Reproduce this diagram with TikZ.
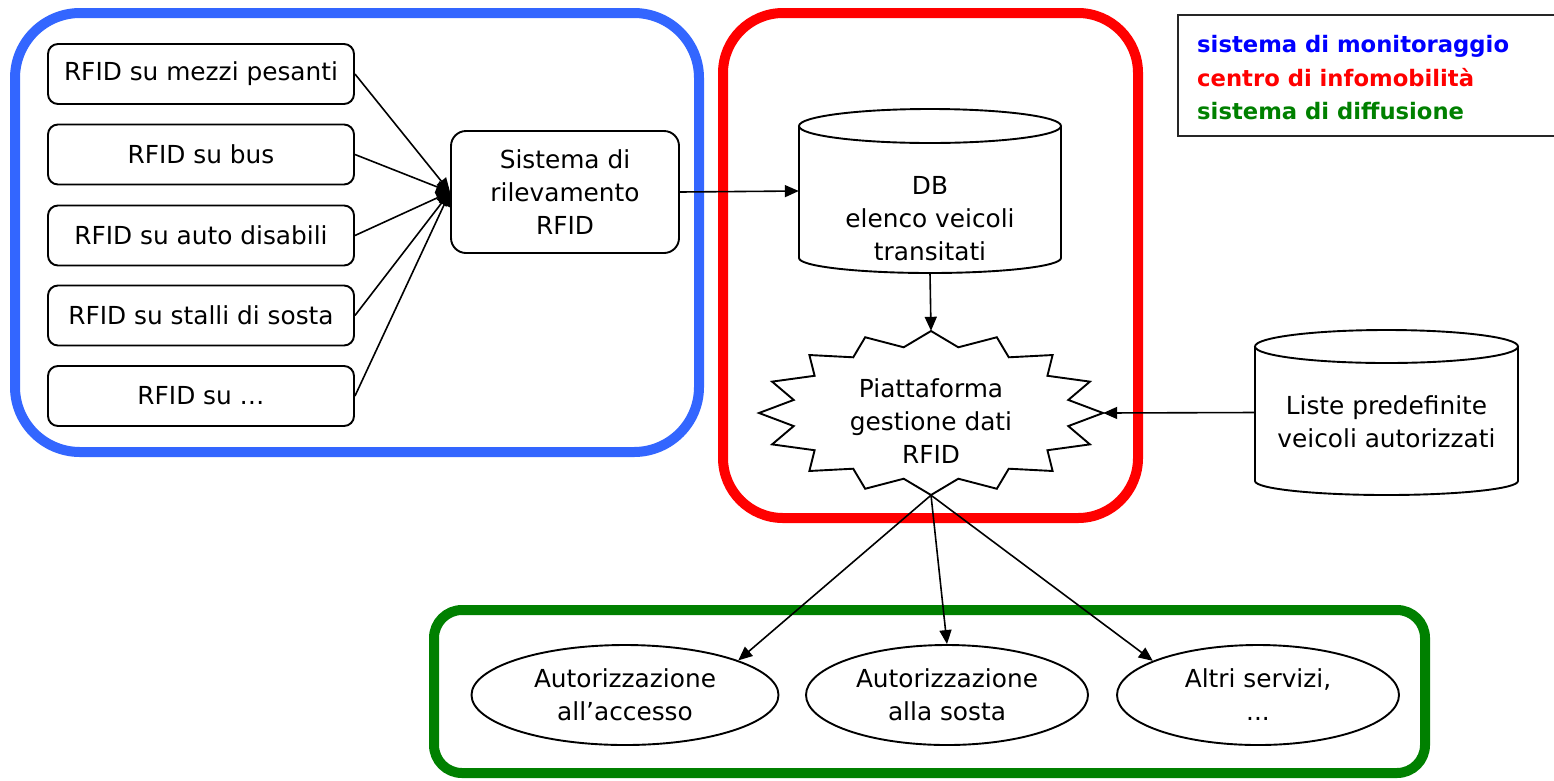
\documentclass[tikz,border=0pt]{standalone}
\usepackage{fontspec}
\setmainfont{DejaVu Sans}
\usetikzlibrary{arrows.meta,shapes.geometric}
\definecolor{bblue}{RGB}{51,102,255}
\definecolor{rred}{RGB}{255,0,0}
\definecolor{ggreen}{RGB}{0,128,0}
\definecolor{lblue}{RGB}{0,0,255}
\begin{document}
\begin{tikzpicture}[x=1pt,y=-1pt,
  every node/.style={font=\fontsize{24.8}{33}\selectfont, inner sep=0pt},
  grp/.style={line width=10pt},
  shp/.style={line width=1.9pt, draw=black},
  rbox/.style={shp, rounded corners=10pt, minimum width=306pt, minimum height=60pt},
  ell/.style={shp, ellipse, minimum height=100pt, align=center},
  txt/.style={align=center},
  legendtext/.style={font=\bfseries\fontsize{22.7}{30}\selectfont, anchor=base west},
  arr/.style={line width=1.6pt, -{Triangle[length=14pt,width=12pt]}}]
\useasboundingbox (0,0) rectangle (1554,780);
\clip (0,0) rectangle (1554,780);

% group frames
\draw[grp, bblue, rounded corners=65pt] (15,13) rectangle (699,452);
\draw[grp, rred, rounded corners=60pt] (723,13) rectangle (1138,518);
\draw[grp, ggreen, rounded corners=28pt] (434,610) rectangle (1425,773);

% legend
\draw[line width=1.9pt, draw=black!85] (1178,15) rectangle (1600,136);
\node[legendtext, text=lblue] (leg1) at (1197,52) {sistema di monitoraggio};
\node[legendtext, text=rred] (leg2) at (1197,86) {centro di infomobilità};
\node[legendtext, text=ggreen] (leg3) at (1197,119) {sistema di diffusione};

% RFID sources
\node[rbox] (r1) at (201,74) {RFID su mezzi pesanti};
\node[rbox] (r2) at (201,154.5) {RFID su bus};
\node[rbox] (r3) at (201,235.5) {RFID su auto disabili};
\node[rbox] (r4) at (201,315.5) {RFID su stalli di sosta};
\node[rbox] (r5) at (201,396) {RFID su …};

\node[shp, rounded corners=15pt, minimum width=228pt, minimum height=122pt, align=center] (sis) at (565,192) {Sistema di\\rilevamento\\RFID};

% DB cylinder
\node[minimum width=262pt, minimum height=164pt] (db) at (930,191) {};
\draw[shp] (930,126) ellipse [x radius=131, y radius=17];
\draw[shp] (799,126) -- (799,258) .. controls (799,266.3) and (857.7,273) .. (930,273)
  .. controls (1002.3,273) and (1061,266.3) .. (1061,258) -- (1061,126);
\node[txt] (dbt) at (930,219) {DB\\elenco veicoli\\transitati};

% Liste cylinder
\node[minimum width=263pt, minimum height=165pt] (lst) at (1386.5,412.5) {};
\draw[shp] (1386.5,346.5) ellipse [x radius=131.5, y radius=16.5];
\draw[shp] (1255,346.5) -- (1255,481) .. controls (1255,488.7) and (1313.9,495) .. (1386.5,495)
  .. controls (1459.1,495) and (1518,488.7) .. (1518,481) -- (1518,346.5);
\node[txt] (lstt) at (1386.5,422) {Liste predefinite\\veicoli autorizzati};

% Starburst platform
\node[ellipse, minimum width=344pt, minimum height=164pt] (pf) at (931,413) {};
\begin{scope}[shift={(931,413)}]
\draw[shp] (0:172pt and 82pt) \foreach \k in {0,...,15}{ -- ({\k*22.5+11.25}:140pt and 67pt) -- ({\k*22.5+22.5}:172pt and 82pt)} -- cycle;
\end{scope}
\node[txt] (pft) at (931,421) {Piattaforma\\gestione dati\\RFID};

% services
\node[ell, minimum width=307pt] (e1) at (625,695) {Autorizzazione\\all’accesso};
\node[ell, minimum width=282pt] (e2) at (947,695) {Autorizzazione\\alla sosta};
\node[ell, minimum width=282pt] (e3) at (1258,695) {Altri servizi,\\...};

% connectors
\foreach \i in {1,...,5} \draw[arr] (r\i.east) -- (sis.west);
\draw[arr] (sis.east) -- (db.west);
\draw[arr] (db.south) -- (pf.north);
\draw[arr] (lst.west) -- (pf.east);
\draw[arr] (pf.south) -- (e1.17);
\draw[arr] (pf.south) -- (e2.north);
\draw[arr] (pf.south) -- (e3.162);
\end{tikzpicture}
\end{document}
